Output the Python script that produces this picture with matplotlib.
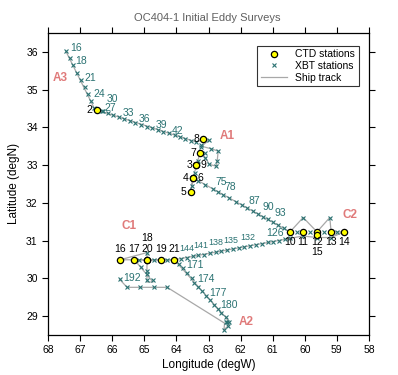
import matplotlib
matplotlib.use('Agg')
import matplotlib.pyplot as plt
import numpy as np

plt.rcParams['font.family'] = ['Liberation Sans', 'DejaVu Sans']

# CTD stations (number, degW, degN)
ctd_num = [2, 3, 4, 5, 6, 7, 8, 9, 10, 11, 12, 13, 14, 15, 16, 17, 18, 19, 20, 21]
ctd_lon = [66.49, 63.38, 63.48, 63.56, 63.48, 63.26, 63.17, 63.38, 60.46, 60.06,
           59.62, 59.18, 58.78, 59.62, 65.76, 65.31, 64.92, 64.48, 64.92, 64.07]
ctd_lat = [34.47, 32.99, 32.66, 32.28, 32.66, 33.33, 33.68, 32.99, 31.23, 31.23,
           31.23, 31.23, 31.23, 31.15, 30.49, 30.49, 30.49, 30.49, 30.49, 30.49]

# XBT drops
xbt_lon = [67.45, 67.33, 67.22, 67.10, 66.98, 66.86, 66.75, 66.65, 66.57,
           66.33, 66.28, 66.15, 65.97, 65.80, 65.63, 65.45, 65.28, 65.10, 64.93,
           64.76, 64.58, 64.41, 64.24, 64.06, 63.89, 63.72, 63.55, 63.38,
           63.22, 63.24, 62.98, 62.91, 62.70, 62.73, 62.76, 62.98, 63.10, 63.12,
           63.33, 63.42, 63.52,
           63.33, 63.10, 62.85, 62.70, 62.55, 62.35, 62.15, 61.95, 61.80, 61.62,
           61.45, 61.30, 61.15, 60.98, 60.82, 60.66,
           60.05, 59.22, 60.06, 59.62, 59.18, 59.85, 59.40, 59.00, 60.25,
           60.45, 60.62, 60.80, 60.98, 61.16, 61.34, 61.52, 61.70, 61.88, 62.06,
           62.24, 62.42, 62.60, 62.78, 62.96, 63.14, 63.32, 63.50, 63.68, 63.86,
           64.92, 65.17, 64.70, 64.28, 64.92, 64.92, 64.92, 64.73, 65.10,
           63.92, 63.79, 63.66, 63.53, 63.45, 63.32, 63.20, 63.07, 62.94, 62.82,
           62.70, 62.60, 62.47,
           62.47, 62.44, 62.37, 62.39, 62.52,
           64.29, 64.71, 65.14, 65.54, 65.77]
xbt_lat = [36.02, 35.84, 35.64, 35.44, 35.26, 35.07, 34.88, 34.69, 34.52,
           34.42, 34.42, 34.37, 34.32, 34.27, 34.22, 34.17, 34.12, 34.07, 34.02,
           33.98, 33.93, 33.88, 33.84, 33.79, 33.74, 33.70, 33.65, 33.61,
           33.52, 33.48, 33.66, 33.43, 33.37, 33.11, 32.97, 33.02, 33.20, 33.33,
           33.10, 32.80, 32.45,
           32.59, 32.48, 32.36, 32.29, 32.22, 32.13, 32.03, 31.94, 31.87, 31.78,
           31.70, 31.63, 31.56, 31.48, 31.41, 31.33,
           31.61, 31.61, 31.12, 31.08, 31.08, 31.23, 31.23, 31.23, 31.23,
           31.06, 31.03, 31.00, 30.97, 30.95, 30.92, 30.89, 30.86, 30.83, 30.80,
           30.78, 30.75, 30.72, 30.69, 30.66, 30.63, 30.61, 30.58, 30.55, 30.52,
           30.68, 30.49, 30.49, 30.49, 30.12, 30.18, 29.95, 29.95, 30.30,
           30.37, 30.26, 30.14, 30.02, 29.88, 29.77, 29.66, 29.53, 29.42, 29.30,
           29.18, 29.07, 28.97,
           28.85, 28.83, 28.85, 28.74, 28.63,
           29.76, 29.76, 29.76, 29.76, 29.97]

# XBT numbers that are written on the map
xbt_tag = ['16', '18', '21', '24', '30', '27', '33', '36', '39', '42', '75', '78',
           '87', '90', '93', '126', '132', '135', '138', '141', '144',
           '171', '174', '177', '180', '192']
xbt_tag_lon = [67.14, 66.96, 66.70, 66.41, 65.99, 66.05, 65.50, 65.00, 64.46, 63.98,
               62.62, 62.32, 61.56, 61.15, 60.75, 60.92, 61.77, 62.30, 62.77,
               63.24, 63.69, 63.43, 63.07, 62.70, 62.36, 65.38]
xbt_tag_lat = [36.09, 35.76, 35.32, 34.88, 34.74, 34.50, 34.37, 34.21, 34.05, 33.89,
               32.55, 32.42, 32.05, 31.89, 31.72, 31.19, 31.07, 31.00, 30.96,
               30.88, 30.80, 30.34, 29.97, 29.62, 29.29, 30.02]
# the westbound tags sit close together and are written a little smaller
packed = {'132', '135', '138', '141', '144'}

# ship track waypoints
track_lon = [67.45, 66.57, 66.49, 66.33, 63.38, 63.17, 62.98, 63.22, 62.91, 62.70,
             62.73, 62.76, 62.98, 63.10, 63.26, 63.38, 63.48, 63.56, 63.48,
             60.46, 60.05, 59.62, 59.22, 59.18, 58.78, 59.18, 59.62, 60.06,
             64.07, 64.48, 64.92, 65.31, 65.76, 64.92, 64.92, 64.92, 64.92, 64.73,
             65.31, 64.92, 64.48, 64.07, 62.47, 62.37, 62.39, 62.52, 62.50,
             64.29, 65.54, 65.77]
track_lat = [36.02, 34.52, 34.47, 34.42, 33.61, 33.68, 33.66, 33.50, 33.43, 33.37,
             33.11, 32.97, 33.02, 33.20, 33.33, 32.99, 32.66, 32.28, 32.66,
             31.23, 31.61, 31.23, 31.61, 31.23, 31.23, 31.08, 31.08, 31.12,
             30.49, 30.49, 30.49, 30.49, 30.49, 30.68, 30.49, 30.12, 29.90, 29.90,
             30.49, 30.49, 30.49, 30.49, 28.97, 28.85, 28.74, 28.63, 28.81,
             29.76, 29.76, 29.97]

# survey names
area_name = ['A1', 'A2', 'A3', 'C1', 'C2']
area_lon = [62.42, 61.84, 67.61, 65.48, 58.60]
area_lat = [33.77, 28.83, 35.30, 31.38, 31.68]

teal = '#2a7272'
fig = plt.figure(figsize=(3.98, 3.75), dpi=100)
ax = fig.add_axes([0.121, 0.107, 0.806, 0.805])

ax.plot(ctd_lon, ctd_lat, ls='none', marker='o', ms=4.5, mfc='#ffff00', mec='black',
        mew=0.9, zorder=3, label='CTD stations')
ax.plot(xbt_lon, xbt_lat, ls='none', marker='x', ms=3, mew=0.8, color=teal,
        zorder=2, label='XBT stations')
ax.plot(track_lon, track_lat, color='#a8a8a8', lw=0.9, zorder=1, label='Ship track')

# where each CTD number goes relative to its circle
place = {'left': ((-3, 0), 'right', 'center'), 'right': ((3, 0), 'left', 'center'),
         'up': ((0, 4), 'center', 'bottom'), 'up2': ((0, 12), 'center', 'bottom'),
         'down': ((0, -4), 'center', 'top'), 'down2': ((0, -9), 'center', 'top')}
side = {2: 'left', 3: 'left', 4: 'left', 5: 'left', 6: 'right', 7: 'left', 8: 'left',
        9: 'right', 10: 'down', 11: 'down', 12: 'down', 13: 'down', 14: 'down',
        15: 'down2', 16: 'up', 17: 'up', 18: 'up2', 19: 'up', 20: 'up', 21: 'up'}
for n, x, y in zip(ctd_num, ctd_lon, ctd_lat):
    off, ha, va = place[side[n]]
    ax.annotate(str(n), (x, y), xytext=off, textcoords='offset points',
                ha=ha, va=va, fontsize=7.5, color='black', zorder=4)

for t, x, y in zip(xbt_tag, xbt_tag_lon, xbt_tag_lat):
    ax.text(x, y, t, fontsize=6.4 if t in packed else 7.5, color=teal,
            ha='center', va='center', zorder=4)

for t, x, y in zip(area_name, area_lon, area_lat):
    ax.text(x, y, t, fontsize=8.5, color='#e07a7a', fontweight='bold',
            ha='center', va='center', zorder=4)

ax.set_xlim(68, 58)
ax.set_ylim(28.5, 36.5)
ax.set_xticks(np.arange(68, 57, -1))
ax.set_yticks(np.arange(29, 37, 1))
ax.tick_params(direction='out', length=4, width=0.8, labelsize=7.5,
               top=True, right=True)
for s in ax.spines.values():
    s.set_linewidth(0.9)
ax.set_xlabel('Longitude (degW)', fontsize=8.5, labelpad=3)
ax.set_ylabel('Latitude (degN)', fontsize=8.5, labelpad=4)
fig.text(0.52, 0.952, 'OC404-1 Initial Eddy Surveys', fontsize=8, color='#606060',
         ha='center', va='center')

leg = ax.legend(loc='upper right', fontsize=7.5, frameon=True, fancybox=False,
                edgecolor='black', borderpad=0.35, labelspacing=0.15,
                handlelength=2.5, handletextpad=0.8, bbox_to_anchor=(0.985, 0.975))
leg.get_frame().set_linewidth(0.8)

fig.savefig('out.png', dpi=100)
